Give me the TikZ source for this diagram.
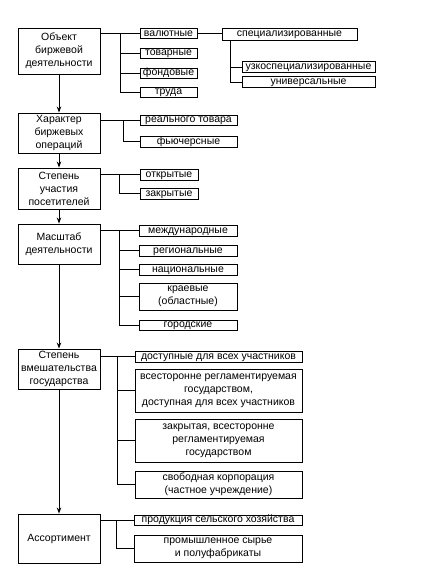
\documentclass[tikz,border=0pt]{standalone}
\usepackage{fontspec}
\setmainfont{Liberation Sans}
\usetikzlibrary{arrows.meta}
\begin{document}
\begin{tikzpicture}[x=1pt,y=-1pt,
  box/.style={draw, line width=0.9pt, inner sep=0pt,
    font=\fontsize{10.5}{13}\selectfont},
  one/.style={box, text height=7.75pt, text depth=2.25pt},
  multi/.style={box, align=center},
  main/.style={multi, minimum width=82pt},
  conn/.style={line width=0.9pt},
  arr/.style={line width=0.9pt, -{Stealth[length=6pt,width=4.5pt]}}]
\useasboundingbox (0,0) rectangle (424,573);
% main boxes
\node[main, minimum height=46pt] (m1) at (59,51) {Объект\\биржевой\\деятельности};
\node[main, minimum height=40pt] (m2) at (59,133) {Характер\\биржевых\\операций};
\node[main, minimum height=41pt] (m3) at (59,188.5) {Степень\\участия\\посетителей};
\node[main, minimum height=40pt] (m4) at (59,244) {Масштаб\\деятельности};
\node[main, minimum height=40pt] (m5) at (59,369) {Степень\\вмешательства\\государства};
\node[main, minimum height=49pt] (m6) at (59,538.5) {Ассортимент};
\draw[arr] (m1.south) -- (m2.north);
\draw[arr] (m2.south) -- (m3.north);
\draw[arr] (m3.south) -- (m4.north);
\draw[arr] (m4.south) -- (m5.north);
\draw[arr] (m5.south) -- (m6.north);
% group 1
\node[one, minimum width=57pt] (a1) at (168.5,33.5) {валютные};
\node[one, minimum width=57pt] (a2) at (168.5,53) {товарные};
\node[one, minimum width=57pt] (a3) at (168.5,73) {фондовые};
\node[one, minimum width=57pt] (a4) at (168.5,92) {труда};
\node[one, minimum width=135pt, text height=8.5pt, text depth=3.5pt] (s1) at (289.5,34) {специализированные};
\node[one, minimum width=133pt, text height=8.25pt, text depth=2.75pt] (s2) at (308.5,67) {узкоспециализированные};
\node[one, minimum width=133pt, text height=8.25pt, text depth=2.75pt] (s3) at (308.5,82) {универсальные};
\coordinate (j1) at (120,0);
\coordinate (js) at (230,0);
\draw[conn] (m1.east |- a1.west) -- (a1.west);
\draw[conn] (j1 |- a1.west) |- (a4.west);
\draw[conn] (j1 |- a2.west) -- (a2.west);
\draw[conn] (j1 |- a3.west) -- (a3.west);
\draw[conn] (a1.east) -- (s1.west |- a1.east);
\draw[conn] (js |- s1.south) |- (s3.west);
\draw[conn] (js |- s2.west) -- (s2.west);
% group 2
\node[one, minimum width=97pt] (b1) at (188.5,120) {реального товара};
\node[one, minimum width=97pt, text height=8.25pt, text depth=2.75pt] (b2) at (188.5,141.5) {фьючерсные};
\coordinate (j2) at (123,0);
\draw[conn] (m2.east |- b1.west) -- (b1.west);
\draw[conn] (j2 |- b1.west) |- (b2.west);
% group 3
\node[one, minimum width=58pt, text height=8.25pt, text depth=2.75pt] (c1) at (169,174.5) {открытые};
\node[one, minimum width=58pt, text height=8.25pt, text depth=2.75pt] (c2) at (169,193.5) {закрытые};
\coordinate (j3) at (119,0);
\draw[conn] (m3.east |- c1.west) -- (c1.west);
\draw[conn] (j3 |- c1.west) |- (c2.west);
% group 4
\node[one, minimum width=98pt, text height=8.25pt, text depth=2.75pt] (d1) at (188,230.5) {международные};
\node[one, minimum width=98pt, text height=8.25pt, text depth=2.75pt] (d2) at (188,250.5) {региональные};
\node[one, minimum width=98pt, text height=8.25pt, text depth=2.75pt] (d3) at (188,269.5) {национальные};
\node[multi, minimum width=98pt, minimum height=27pt] (d4) at (188,296.5) {краевые\\(областные)};
\node[one, minimum width=98pt] (d5) at (188,325) {городские};
\coordinate (j4) at (119,0);
\draw[conn] (m4.east |- d1.west) -- (d1.west);
\draw[conn] (j4 |- d1.west) |- (d5.west);
\draw[conn] (j4 |- d2.west) -- (d2.west);
\draw[conn] (j4 |- d3.west) -- (d3.west);
\draw[conn] (j4 |- d4.west) -- (d4.west);
% group 5
\node[one, minimum width=167pt, text height=8.25pt, text depth=2.75pt] (e1) at (218.5,356.5) {доступные для всех участников};
\node[multi, minimum width=167pt, minimum height=43pt] (e2) at (218.5,390.5) {всесторонне регламентируемая\\государством,\\доступная для всех участников};
\node[multi, minimum width=167pt, minimum height=43pt] (e3) at (218.5,440.5) {закрытая, всесторонне\\регламентируемая\\государством};
\node[multi, minimum width=167pt, minimum height=27pt] (e4) at (218.5,484.5) {свободная корпорация\\(частное учреждение)};
\coordinate (j5) at (117,0);
\draw[conn] (m5.east |- e1.west) -- (e1.west);
\draw[conn] (j5 |- e1.west) |- (e4.west);
\draw[conn] (j5 |- e2.west) -- (e2.west);
\draw[conn] (j5 |- e3.west) -- (e3.west);
% group 6
\node[one, minimum width=168pt] (f1) at (218,520) {продукция сельского хозяйства};
\node[multi, minimum width=168pt, minimum height=27pt] (f2) at (218,548.5) {промышленное сырье\\и полуфабрикаты};
\coordinate (j6) at (116,0);
\draw[conn] (m6.east |- f1.west) -- (f1.west);
\draw[conn] (j6 |- f1.west) |- (f2.west);
\end{tikzpicture}
\end{document}
